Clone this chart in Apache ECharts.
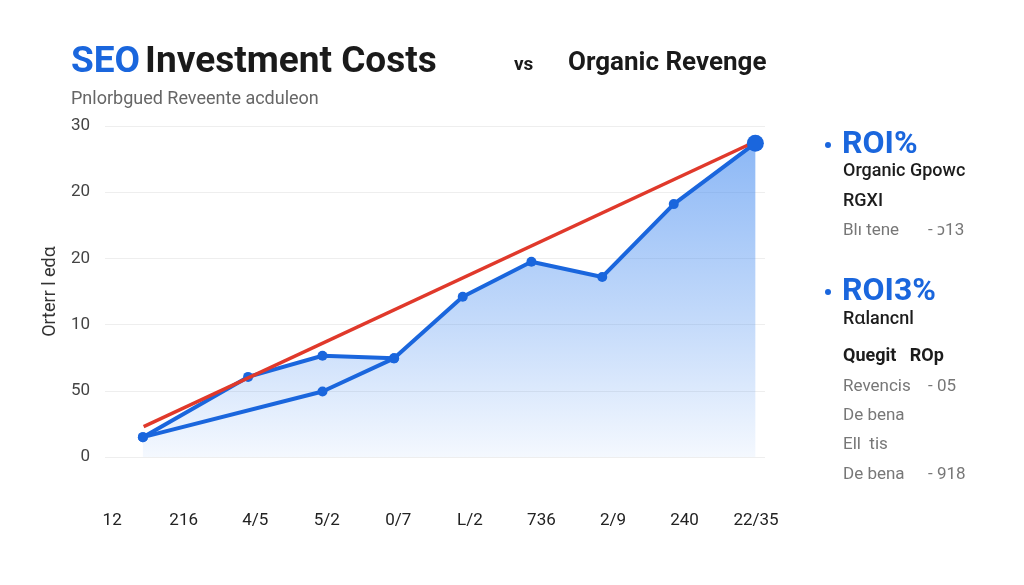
<!DOCTYPE html>
<html>
<head>
<meta charset="utf-8">
<title>SEO Investment Costs vs Organic Revenge</title>
<script src="https://cdn.jsdelivr.net/npm/echarts@6/dist/echarts.min.js"></script>
<style>
  html, body { margin: 0; padding: 0; background: #fff; }
  #chart { width: 1024px; height: 585px; }
</style>
</head>
<body>
<div id="chart"></div>
<script>
// tick labels
var xLabels = ["12", "216", "4/5", "5/2", "0/7", "L/2", "736", "2/9", "240", "22/35"];
var yLabels = ["0", "50", "10", "20", "20", "30"];

// blue growth path (x in tick units)
var growthX = [0.43, 1.90, 2.94, 3.94, 4.90, 5.86, 6.85, 7.85, 8.99];
var growthY = [0.30, 1.21, 1.53, 1.49, 2.42, 2.95, 2.72, 3.82, 4.74];

// lower blue branch
var branchX = [0.43, 2.94, 3.94];
var branchY = [0.30, 0.99, 1.49];

// red trend line
var trendX = [0.44, 8.94];
var trendY = [0.46, 4.74];

// side panel texts
var panelHeads = ["ROI%", "ROI3%"];
var panelLines = [
  ["Organic Gpowc", ""],
  ["RGXI", ""],
  ["Blı tene", "- ɔ13"],
  ["Rɑlancnl", ""],
  ["Quegit   ROp", ""],
  ["Revencis", "- 05"],
  ["De bena", ""],
  ["Ell  tis", ""],
  ["De bena", "- 918"]
];

function pairs(xs, ys) {
  return xs.map(function (x, i) { return [x, ys[i]]; });
}

var chart = echarts.init(document.getElementById("chart"));

var blue = "#1a66dd";
var font = "Roboto, 'Noto Sans', sans-serif";

// right panel layout
var lineY = [173, 203, 233, 321, 358, 389, 418, 447, 477];
var lineStyle = [
  { fill: "#1c1c1c", w: 500, s: 18 },
  { fill: "#1c1c1c", w: 500, s: 18 },
  { fill: "#777", w: 400, s: 17 },
  { fill: "#1c1c1c", w: 500, s: 18 },
  { fill: "#1c1c1c", w: 700, s: 18 },
  { fill: "#777", w: 400, s: 17 },
  { fill: "#777", w: 400, s: 17 },
  { fill: "#777", w: 400, s: 17 },
  { fill: "#777", w: 400, s: 17 }
];
var graphics = [];
[143, 290].forEach(function (y, i) {
  graphics.push({
    type: "circle", shape: { cx: 828, cy: y + 2, r: 3 },
    style: { fill: blue }
  });
  graphics.push({
    type: "text", left: 842, top: y - 14,
    style: { text: panelHeads[i], fill: blue, font: "bold 32px " + font }
  });
});
panelLines.forEach(function (l, i) {
  var s = lineStyle[i];
  graphics.push({
    type: "text", left: 843, top: lineY[i] - 11,
    style: { text: l[0], fill: s.fill, font: s.w + " " + s.s + "px " + font }
  });
  if (l[1]) {
    graphics.push({
      type: "text", left: 928, top: lineY[i] - 11,
      style: { text: l[1], fill: s.fill, font: s.w + " " + s.s + "px " + font }
    });
  }
});

var option = {
  animation: false,
  backgroundColor: "#fff",
  title: [
    {
      text: "{a|SEO} {b|Investment Costs}",
      left: 66,
      top: 39,
      textStyle: {
        rich: {
          a: { color: blue, fontSize: 37, fontWeight: "bold", fontFamily: font },
          b: { color: "#1a1a1a", fontSize: 37, fontWeight: "bold", fontFamily: font }
        }
      },
      subtext: "Pnlorbgued Reveente acdulеon",
      subtextStyle: { color: "#666", fontSize: 18, fontFamily: font },
      itemGap: 9
    },
    {
      text: "vs",
      left: 509,
      top: 51,
      textStyle: { color: "#1a1a1a", fontSize: 19, fontWeight: "bold", fontFamily: font }
    },
    {
      text: "Organic Revenge",
      left: 563,
      top: 45,
      textStyle: { color: "#1a1a1a", fontSize: 26, fontWeight: "bold", fontFamily: font }
    }
  ],
  grid: { left: 105, right: 259, top: 126, bottom: 128 },
  xAxis: {
    type: "value",
    min: -0.1,
    max: 9.125,
    axisLine: { show: false },
    axisTick: { show: false },
    splitLine: { show: false },
    axisLabel: {
      customValues: xLabels.map(function (_, i) { return i; }),
      formatter: function (v) { return xLabels[Math.round(v)]; },
      color: "#222",
      fontSize: 17,
      fontFamily: font,
      margin: 55
    }
  },
  yAxis: {
    type: "value",
    min: 0,
    max: 5,
    interval: 1,
    name: "Orterr l edɑ",
    nameLocation: "middle",
    nameGap: 33,
    nameTextStyle: { color: "#333", fontSize: 18, fontFamily: font },
    axisLine: { show: false },
    axisTick: { show: false },
    splitLine: { lineStyle: { color: "#eeeeee", width: 1 } },
    axisLabel: {
      formatter: function (v) { return yLabels[Math.round(v)]; },
      color: "#444",
      fontSize: 17,
      fontFamily: font,
      margin: 15
    }
  },
  series: [
    {
      type: "line",
      data: pairs(growthX, growthY),
      z: 2,
      symbol: "circle",
      symbolSize: 10,
      lineStyle: { color: blue, width: 4 },
      itemStyle: { color: blue },
      areaStyle: {
        opacity: 1,
        color: new echarts.graphic.LinearGradient(0, 0, 0, 1, [
          { offset: 0, color: "rgba(70, 140, 240, 0.62)" },
          { offset: 0.6, color: "rgba(70, 140, 240, 0.3)" },
          { offset: 1, color: "rgba(70, 140, 240, 0.06)" }
        ])
      }
    },
    {
      type: "line",
      data: pairs(branchX, branchY),
      z: 2,
      symbol: "circle",
      symbolSize: 10,
      lineStyle: { color: blue, width: 4 },
      itemStyle: { color: blue }
    },
    {
      type: "line",
      data: pairs(trendX, trendY),
      z: 3,
      symbol: "none",
      lineStyle: { color: "#e0392b", width: 3.5 }
    },
    {
      type: "scatter",
      data: [[growthX[growthX.length - 1], growthY[growthY.length - 1]]],
      z: 4,
      symbolSize: 17,
      itemStyle: { color: blue, opacity: 1 }
    }
  ],
  graphic: graphics
};

chart.setOption(option);
</script>
</body>
</html>
